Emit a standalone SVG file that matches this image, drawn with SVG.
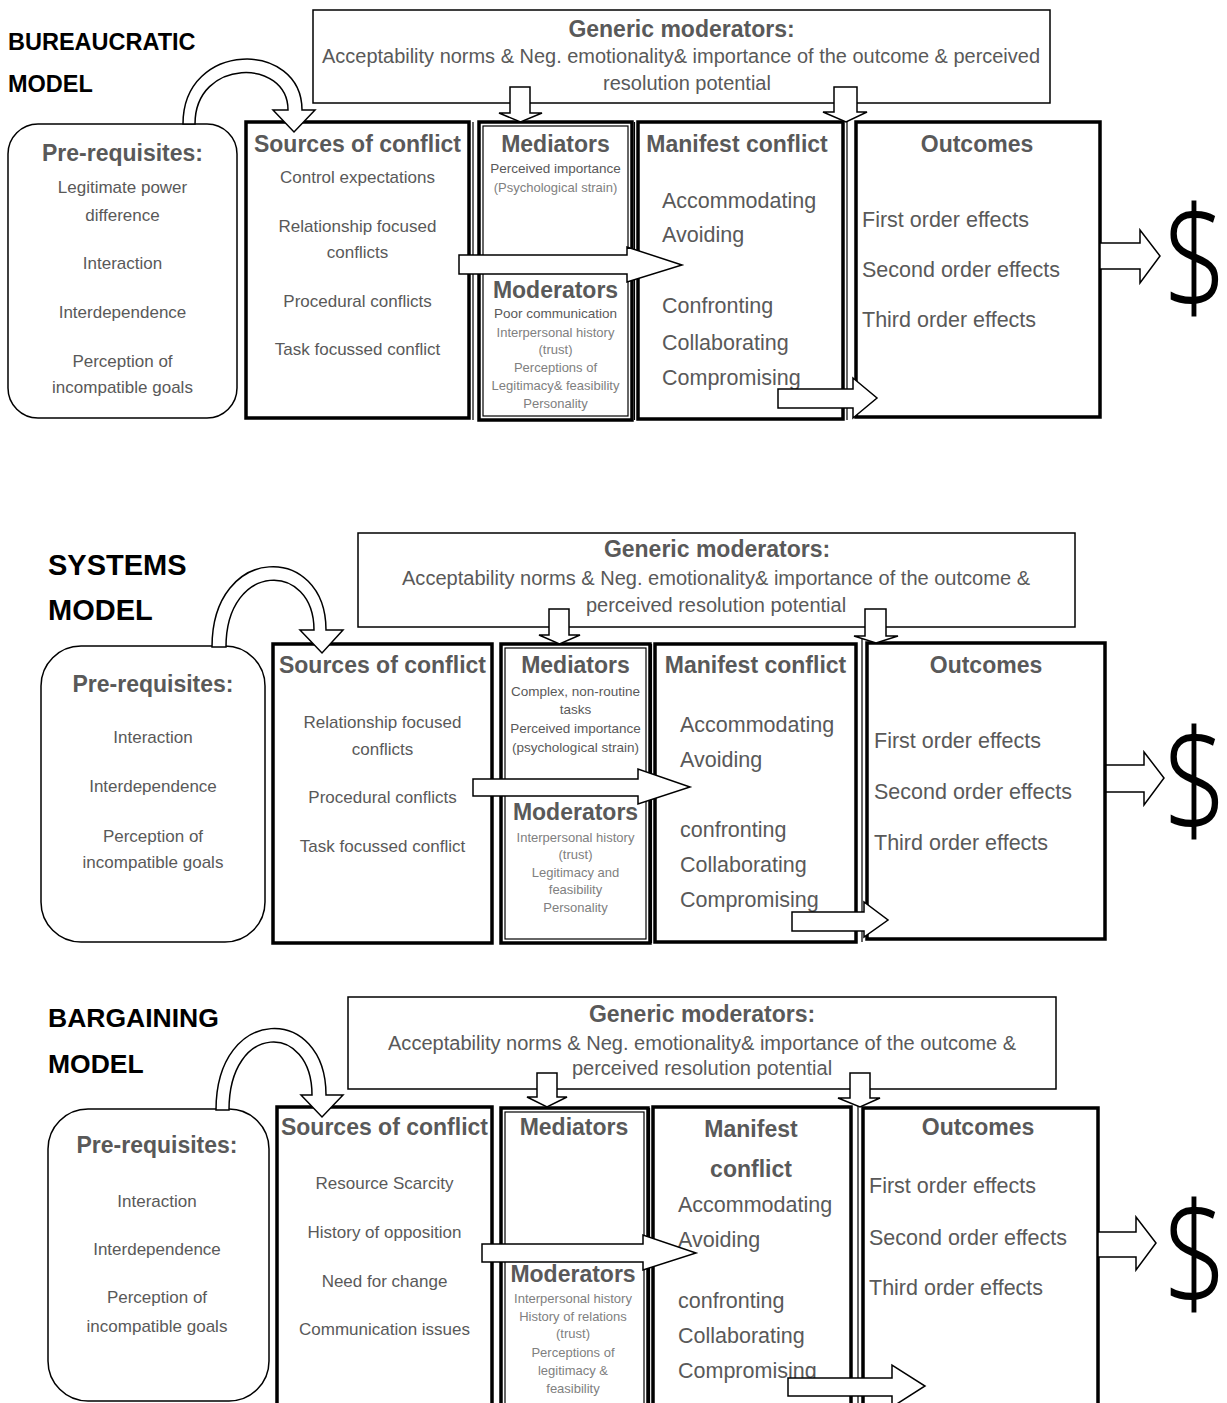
<svg xmlns="http://www.w3.org/2000/svg" width="1227" height="1403" viewBox="0 0 1227 1403">
<style>
text{font-family:"Liberation Sans",Arial,sans-serif;}
.box{fill:#fff;stroke:#000;stroke-width:3.5;}
.thin{fill:none;stroke:#000;stroke-width:1.2;}
.gbox{fill:#fff;stroke:#000;stroke-width:1.5;}
.pre{fill:#fff;stroke:#000;stroke-width:1.5;}
.arr{fill:#fff;stroke:#000;stroke-width:1.5;stroke-linejoin:miter;}
.title{font-weight:bold;fill:#000;}
.h{font-weight:bold;font-size:23px;fill:#595959;text-anchor:middle;}
.g{font-size:20px;fill:#595959;}
.c{text-anchor:middle;}
.t{font-size:17px;fill:#595959;text-anchor:middle;}
.m{font-size:21.5px;fill:#595959;}
.s{font-size:13.5px;fill:#595959;text-anchor:middle;}
.sl{font-size:13px;fill:#808080;text-anchor:middle;}
.d{font-family:"Noto Sans","Open Sans","Liberation Sans",sans-serif;font-weight:300;font-size:142px;fill:#000;text-anchor:middle;}
</style>

<!-- ============ BUREAUCRATIC MODEL ============ -->
<g id="bureaucratic">
  <g id="b-title">
    <text class="title" x="8" y="50" font-size="23.5">BUREAUCRATIC</text>
    <text class="title" x="8" y="92" font-size="23.5">MODEL</text>
  </g>
  <g id="b-generic">
    <rect class="gbox" x="313" y="10" width="737" height="93"/>
    <text class="h" x="681.5" y="37">Generic moderators:</text>
    <text class="g" x="322" y="63" textLength="718" lengthAdjust="spacingAndGlyphs">Acceptability norms &amp; Neg. emotionality&amp; importance of the outcome &amp; perceived</text>
    <text class="g c" x="687" y="90">resolution potential</text>
  </g>
  <g id="b-prereq">
    <rect class="pre" x="8" y="124" width="229" height="294" rx="30" ry="30"/>
    <text class="h" x="122.5" y="161">Pre-requisites:</text>
    <text class="t" x="122.5" y="193">Legitimate power</text>
    <text class="t" x="122.5" y="221">difference</text>
    <text class="t" x="122.5" y="269">Interaction</text>
    <text class="t" x="122.5" y="318">Interdependence</text>
    <text class="t" x="122.5" y="367">Perception of</text>
    <text class="t" x="122.5" y="393">incompatible goals</text>
  </g>
  <g id="b-sources">
    <rect class="box" x="246" y="122" width="223" height="296"/>
    <line class="thin" x1="473" y1="122" x2="473" y2="420"/>
    <text class="h" x="357.5" y="152">Sources of conflict</text>
    <text class="t" x="357.5" y="183">Control expectations</text>
    <text class="t" x="357.5" y="232">Relationship focused</text>
    <text class="t" x="357.5" y="258">conflicts</text>
    <text class="t" x="357.5" y="307">Procedural conflicts</text>
    <text class="t" x="357.5" y="355">Task focussed conflict</text>
  </g>
  <g id="b-mediators">
    <rect class="box" x="479" y="122" width="153" height="298"/>
    <rect class="thin" x="483" y="126" width="145" height="290"/>
    <text class="h" x="555.5" y="152">Mediators</text>
    <text class="s" x="555.5" y="173">Perceived importance</text>
    <text class="sl" x="555.5" y="192">(Psychological strain)</text>
    <text class="h" x="555.5" y="298">Moderators</text>
    <text class="s" x="555.5" y="318" font-size="13">Poor communication</text>
    <text class="sl" x="555.5" y="337">Interpersonal history</text>
    <text class="sl" x="555.5" y="354">(trust)</text>
    <text class="sl" x="555.5" y="372">Perceptions of</text>
    <text class="sl" x="555.5" y="390">Legitimacy&amp; feasibility</text>
    <text class="sl" x="555.5" y="408">Personality</text>
  </g>
  <g id="b-manifest">
    <rect class="box" x="638" y="122" width="205" height="297"/>
    <line class="thin" x1="634.5" y1="122" x2="634.5" y2="420"/>
    <line class="thin" x1="847" y1="112" x2="847" y2="420"/>
    <text class="h" x="737" y="152">Manifest conflict</text>
    <text class="m" x="662" y="208">Accommodating</text>
    <text class="m" x="662" y="242">Avoiding</text>
    <text class="m" x="662" y="313">Confronting</text>
    <text class="m" x="662" y="350">Collaborating</text>
    <text class="m" x="662" y="385">Compromising</text>
  </g>
  <g id="b-outcomes">
    <rect class="box" x="856" y="122" width="244" height="295"/>
    <text class="h" x="977" y="152">Outcomes</text>
    <text class="m" x="862" y="227">First order effects</text>
    <text class="m" x="862" y="277">Second order effects</text>
    <text class="m" x="862" y="327">Third order effects</text>
  </g>
  <g id="b-dollar">
    <text class="d" transform="translate(1195,308) scale(0.78,1)" x="0" y="0">$</text>
  </g>
  <g id="b-connectors">
    <path class="arr" d="M183,124 C183,40 302,40 302,110 L315,110 L294,132 L273,110 L288,110 C288,58 195,58 195,124 Z"/>
    <polygon class="arr" points="510,87 530,87 530,113 542,113 520.5,122 499,113 510,113"/>
    <polygon class="arr" points="834,87 857,87 857,112 867,112 846,122 823,112 834,112"/>
    <polygon class="arr" points="459,255 627,255 627,247 682,265 627,282 627,274 459,274"/>
    <polygon class="arr" points="778,389 853,389 853,378 877,398 853,418 853,408 778,408"/>
    <polygon class="arr" points="1100,243 1140,243 1140,230 1160,256 1140,283 1140,269 1100,269"/>
  </g>
</g>

<!-- ============ SYSTEMS MODEL ============ -->
<g id="systems">
  <g id="s-title">
    <text class="title" x="48" y="575" font-size="29">SYSTEMS</text>
    <text class="title" x="48" y="620" font-size="29">MODEL</text>
  </g>
  <g id="s-generic">
    <rect class="gbox" x="358" y="533" width="717" height="94"/>
    <text class="h" x="717" y="557">Generic moderators:</text>
    <text class="g" x="402" y="585" textLength="628" lengthAdjust="spacingAndGlyphs">Acceptability norms &amp; Neg. emotionality&amp; importance of the outcome &amp;</text>
    <text class="g c" x="716" y="612">perceived resolution potential</text>
  </g>
  <g id="s-prereq">
    <rect class="pre" x="41" y="646" width="224" height="296" rx="40" ry="40"/>
    <text class="h" x="153" y="692">Pre-requisites:</text>
    <text class="t" x="153" y="743">Interaction</text>
    <text class="t" x="153" y="792">Interdependence</text>
    <text class="t" x="153" y="842">Perception of</text>
    <text class="t" x="153" y="868">incompatible goals</text>
  </g>
  <g id="s-sources">
    <rect class="box" x="273" y="644" width="219" height="299"/>
    <text class="h" x="382.5" y="673">Sources of conflict</text>
    <text class="t" x="382.5" y="728">Relationship focused</text>
    <text class="t" x="382.5" y="755">conflicts</text>
    <text class="t" x="382.5" y="803">Procedural conflicts</text>
    <text class="t" x="382.5" y="852">Task focussed conflict</text>
  </g>
  <g id="s-mediators">
    <rect class="box" x="501" y="644" width="149" height="299"/>
    <rect class="thin" x="505" y="648" width="141" height="291"/>
    <text class="h" x="575.5" y="673">Mediators</text>
    <text class="s" x="575.5" y="696" font-size="14">Complex, non-routine</text>
    <text class="s" x="575.5" y="714" font-size="14">tasks</text>
    <text class="s" x="575.5" y="733" font-size="14">Perceived importance</text>
    <text class="s" x="575.5" y="752" font-size="13.5">(psychological strain)</text>
    <text class="h" x="575.5" y="820">Moderators</text>
    <text class="sl" x="575.5" y="842">Interpersonal history</text>
    <text class="sl" x="575.5" y="859">(trust)</text>
    <text class="sl" x="575.5" y="877">Legitimacy and</text>
    <text class="sl" x="575.5" y="894">feasibility</text>
    <text class="sl" x="575.5" y="912">Personality</text>
  </g>
  <g id="s-manifest">
    <rect class="box" x="655" y="644" width="201" height="298"/>
    <line class="thin" x1="651.5" y1="644" x2="651.5" y2="943"/>
    <line class="thin" x1="862" y1="636" x2="862" y2="942"/>
    <text class="h" x="755.5" y="673">Manifest conflict</text>
    <text class="m" x="680" y="732">Accommodating</text>
    <text class="m" x="680" y="767">Avoiding</text>
    <text class="m" x="680" y="837">confronting</text>
    <text class="m" x="680" y="872">Collaborating</text>
    <text class="m" x="680" y="907">Compromising</text>
  </g>
  <g id="s-outcomes">
    <rect class="box" x="867" y="643" width="238" height="296"/>
    <text class="h" x="986" y="673">Outcomes</text>
    <text class="m" x="874" y="748">First order effects</text>
    <text class="m" x="874" y="799">Second order effects</text>
    <text class="m" x="874" y="850">Third order effects</text>
  </g>
  <g id="s-dollar">
    <text class="d" transform="translate(1195,831) scale(0.78,1)" x="0" y="0">$</text>
  </g>
  <g id="s-connectors">
    <path class="arr" d="M212,647 C212,543 326,543 326,630 L343,630 L322,653 L300,630 L314,630 C314,561 226,561 226,647 Z"/>
    <polygon class="arr" points="549,609 569,609 569,635 580,635 559.5,644 539,635 549,635"/>
    <polygon class="arr" points="865,609 886,609 886,636 898,636 876,643 854,636 865,636"/>
    <polygon class="arr" points="473,779 638,779 638,769 690,787 638,804 638,796 473,796"/>
    <polygon class="arr" points="792,912 864,912 864,902 888,920 864,937 864,931 792,931"/>
    <polygon class="arr" points="1106,765 1144,765 1144,752 1164,778 1144,805 1144,792 1106,792"/>
  </g>
</g>

<!-- ============ BARGAINING MODEL ============ -->
<g id="bargaining">
  <g id="g-title">
    <text class="title" x="48" y="1027" font-size="26.5">BARGAINING</text>
    <text class="title" x="48" y="1073" font-size="26.5">MODEL</text>
  </g>
  <g id="g-generic">
    <rect class="gbox" x="348" y="997" width="708" height="92"/>
    <text class="h" x="702" y="1022">Generic moderators:</text>
    <text class="g" x="388" y="1050" textLength="628" lengthAdjust="spacingAndGlyphs">Acceptability norms &amp; Neg. emotionality&amp; importance of the outcome &amp;</text>
    <text class="g c" x="702" y="1075">perceived resolution potential</text>
  </g>
  <g id="g-prereq">
    <rect class="pre" x="48" y="1109" width="221" height="292" rx="40" ry="40"/>
    <text class="h" x="157" y="1153">Pre-requisites:</text>
    <text class="t" x="157" y="1207">Interaction</text>
    <text class="t" x="157" y="1255">Interdependence</text>
    <text class="t" x="157" y="1303">Perception of</text>
    <text class="t" x="157" y="1332">incompatible goals</text>
  </g>
  <g id="g-sources">
    <rect class="box" x="277" y="1107" width="215" height="320"/>
    <text class="h" x="384.5" y="1135">Sources of conflict</text>
    <text class="t" x="384.5" y="1189">Resource Scarcity</text>
    <text class="t" x="384.5" y="1238">History of opposition</text>
    <text class="t" x="384.5" y="1287">Need for change</text>
    <text class="t" x="384.5" y="1335">Communication issues</text>
  </g>
  <g id="g-mediators">
    <rect class="box" x="501" y="1108" width="147" height="320"/>
    <rect class="thin" x="505" y="1112" width="139" height="312"/>
    <text class="h" x="574" y="1135">Mediators</text>
    <text class="h" x="573" y="1282">Moderators</text>
    <text class="sl" x="573" y="1303">Interpersonal history</text>
    <text class="sl" x="573" y="1321">History of relations</text>
    <text class="sl" x="573" y="1338">(trust)</text>
    <text class="sl" x="573" y="1357">Perceptions of</text>
    <text class="sl" x="573" y="1375">legitimacy &amp;</text>
    <text class="sl" x="573" y="1393">feasibility</text>
  </g>
  <g id="g-manifest">
    <rect class="box" x="653" y="1107" width="198" height="320"/>
    <line class="thin" x1="649.5" y1="1108" x2="649.5" y2="1403"/>
    <line class="thin" x1="858" y1="1098" x2="858" y2="1403"/>
    <text class="h" x="751" y="1137">Manifest</text>
    <text class="h" x="751" y="1177">conflict</text>
    <text class="m" x="678" y="1212">Accommodating</text>
    <text class="m" x="678" y="1247">Avoiding</text>
    <text class="m" x="678" y="1308">confronting</text>
    <text class="m" x="678" y="1343">Collaborating</text>
    <text class="m" x="678" y="1378">Compromising</text>
  </g>
  <g id="g-outcomes">
    <rect class="box" x="863" y="1108" width="235" height="320"/>
    <text class="h" x="978" y="1135">Outcomes</text>
    <text class="m" x="869" y="1193">First order effects</text>
    <text class="m" x="869" y="1245">Second order effects</text>
    <text class="m" x="869" y="1295">Third order effects</text>
  </g>
  <g id="g-dollar">
    <text class="d" transform="translate(1195,1304) scale(0.78,1)" x="0" y="0">$</text>
  </g>
  <g id="g-connectors">
    <path class="arr" d="M216,1110 C216,1004 326,1004 326,1095 L343,1095 L322,1117 L301,1095 L312,1095 C312,1022 229,1022 229,1110 Z"/>
    <polygon class="arr" points="537,1073 557,1073 557,1097 567,1097 547,1107 527,1097 537,1097"/>
    <polygon class="arr" points="850,1073 870,1073 870,1098 880,1098 860,1107 838,1098 850,1098"/>
    <polygon class="arr" points="482,1244 643,1244 643,1235 696,1253 643,1270 643,1262 482,1262"/>
    <polygon class="arr" points="788,1378 892,1378 892,1365 925,1386 892,1407 892,1396 788,1396"/>
    <polygon class="arr" points="1098,1232 1136,1232 1136,1217 1156,1243 1136,1270 1136,1257 1098,1257"/>
  </g>
</g>
</svg>
